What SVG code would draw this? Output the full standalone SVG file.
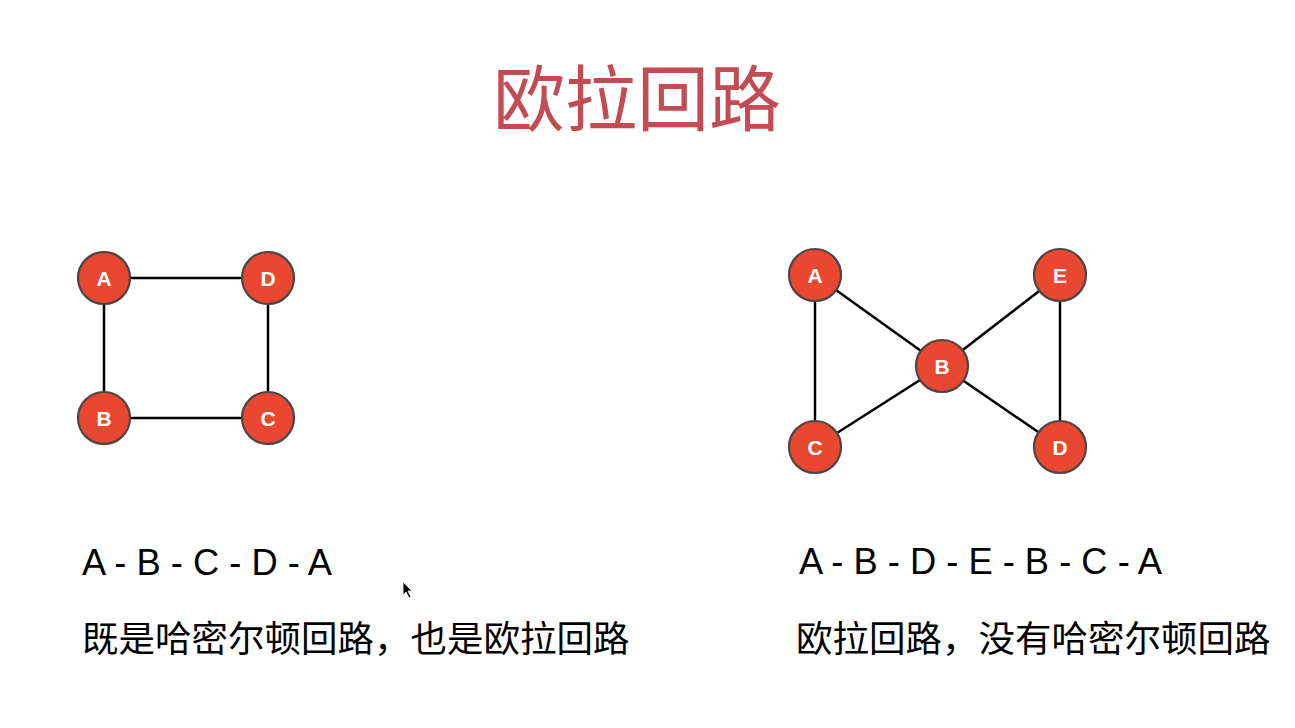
<svg xmlns="http://www.w3.org/2000/svg" width="1295" height="728" viewBox="0 0 1295 728">
<style>
.node circle{fill:#e9472f;stroke:#4d4545;stroke-width:2.2}
.node text{fill:#fff;font-family:"Liberation Sans",Arial,sans-serif;font-weight:bold;font-size:21px;text-anchor:middle;dominant-baseline:central}
.edges line{stroke:#000;stroke-width:2.5}
.title{fill:#c24b54;font-family:"Noto Sans CJK SC",sans-serif;font-size:72px;text-anchor:middle}
.path{fill:#000;font-family:"Liberation Sans",Arial,sans-serif;font-size:36.3px}
.cn{fill:#000;font-family:"Noto Sans CJK SC",sans-serif;font-size:36.5px}
</style>
<rect width="1295" height="728" fill="#fff"/>
<text class="title" x="637" y="125">欧拉回路</text>
<g class="edges" id="edges-left">
<line x1="104" y1="278" x2="268" y2="278"/>
<line x1="104" y1="278" x2="104" y2="418"/>
<line x1="104" y1="418" x2="268" y2="418"/>
<line x1="268" y1="278" x2="268" y2="418"/>
</g>
<g class="edges" id="edges-right">
<line x1="815" y1="275" x2="815" y2="447"/>
<line x1="815" y1="275" x2="942" y2="366"/>
<line x1="815" y1="447" x2="942" y2="366"/>
<line x1="1060" y1="275" x2="942" y2="366"/>
<line x1="1060" y1="447" x2="942" y2="366"/>
<line x1="1060" y1="275" x2="1060" y2="447"/>
</g>
<g class="node" id="L-A"><circle cx="104" cy="278" r="26"/><text x="104" y="278">A</text></g>
<g class="node" id="L-D"><circle cx="268" cy="278" r="26"/><text x="268" y="278">D</text></g>
<g class="node" id="L-B"><circle cx="104" cy="418" r="26"/><text x="104" y="418">B</text></g>
<g class="node" id="L-C"><circle cx="268" cy="418" r="26"/><text x="268" y="418">C</text></g>
<g class="node" id="R-A"><circle cx="815" cy="275" r="26"/><text x="815" y="275">A</text></g>
<g class="node" id="R-E"><circle cx="1060" cy="275" r="26"/><text x="1060" y="275">E</text></g>
<g class="node" id="R-B"><circle cx="942" cy="366" r="26"/><text x="942" y="366">B</text></g>
<g class="node" id="R-C"><circle cx="815" cy="447" r="26"/><text x="815" y="447">C</text></g>
<g class="node" id="R-D"><circle cx="1060" cy="447" r="26"/><text x="1060" y="447">D</text></g>
<text class="path" x="82" y="575">A - B - C - D - A</text>
<text class="path" x="799" y="574">A - B - D - E - B - C - A</text>
<text class="cn" x="82" y="652">既是哈密尔顿回路，也是欧拉回路</text>
<text class="cn" x="796" y="652">欧拉回路，没有哈密尔顿回路</text>
<path d="M403 582 L403 595 L406 592 L409 598 L411 597 L408 591 L412 591 Z" fill="#000" stroke="#fff" stroke-width="0.8"/>
</svg>
